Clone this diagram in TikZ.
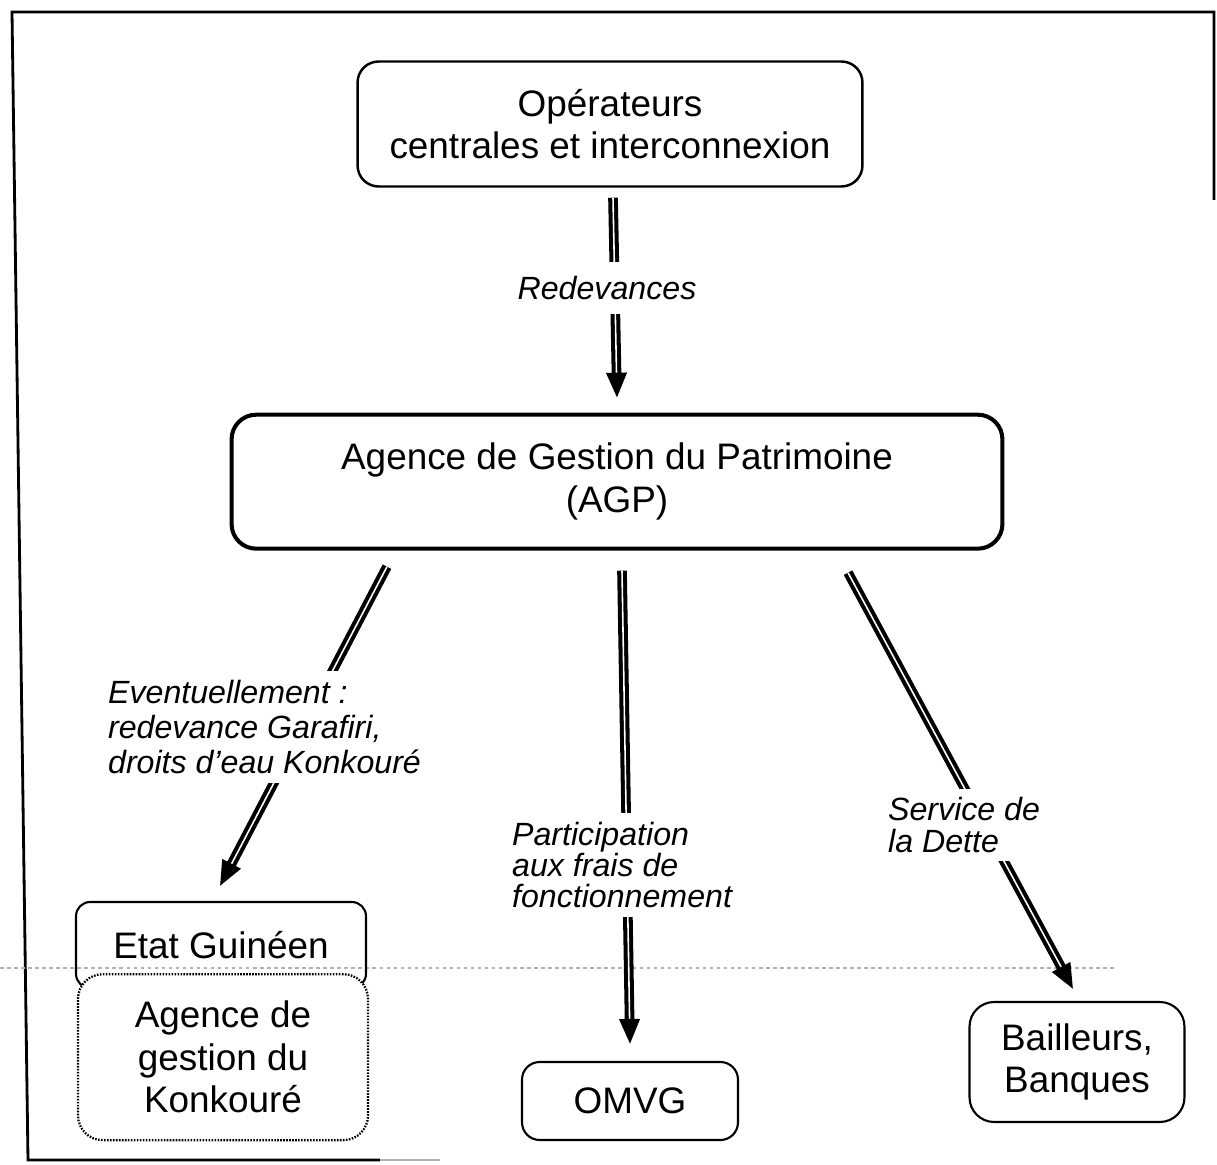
\documentclass[tikz,border=0pt]{standalone}
\usepackage{fontspec}
\setmainfont{Liberation Sans}
\usetikzlibrary{arrows.meta, positioning, calc}

\begin{document}
\begin{tikzpicture}[
    x=0.02cm, y=0.02cm,
    box/.style={draw, line width=1.2pt, align=center, inner sep=0pt, font=\fontsize{21}{24.2}\selectfont},
    dotbox/.style={box, dash pattern=on 0.9pt off 0.8pt, line width=1.3pt, fill=white},
    lbl/.style={fill=white, align=left, inner sep=5pt, font=\fontsize{18.3}{17.8}\selectfont\itshape},
    flow/.style={double=white, double distance=0.9pt, line width=2.3pt, -{Triangle[length=0.5cm, width=0.4cm]}},
    frame/.style={line width=1.6pt},
    scanline/.style={gray!60, dash pattern=on 2pt off 2pt, line width=0.6pt},
]
\useasboundingbox (0,0) rectangle (1217,-1165);

% Page frame and scan line
\draw[frame] (1214,-200) -- (1214,-12) -- (12,-12) -- (28,-1160) -- (380,-1160);
\draw[gray!60, line width=0.8pt] (380,-1160) -- (440,-1160);
\draw[scanline] (0,-968) -- (1115,-968);

% Top: operators
\node[box, rounded corners=12pt, line width=1.4pt, minimum width=10.1cm, minimum height=2.5cm] (ops) at (610,-124) {Opérateurs\\centrales et interconnexion};

% AGP
\node[box, rounded corners=14pt, line width=2.3pt, minimum width=15.42cm, minimum height=2.68cm, below=4.5cm of ops, xshift=0.14cm] (agp) {Agence de Gestion du Patrimoine\\(AGP)};

% Receivers
\node[box, rounded corners=8pt, minimum width=5.8cm, minimum height=1.72cm] (etat) at (221,-945) {Etat Guinéen};
\node[dotbox, rounded corners=14pt, minimum width=5.8cm, minimum height=3.32cm, below=-0.32cm of etat, xshift=0.04cm] (konk) {Agence de\\gestion du\\Konkouré};
\node[box, rounded corners=10pt, minimum width=4.32cm, minimum height=1.56cm] (omvg) at (630,-1101) {OMVG};
\node[box, rounded corners=14pt, minimum width=4.3cm, minimum height=2.4cm] (bail) at (1077,-1062) {Bailleurs,\\Banques};

% Flows
\draw[flow] ($(ops.south)+(3,-10)$) -- ($(agp.north)+(0,15)$);
\draw[flow] ($(agp.south)+(-230,-16)$) -- ($(etat.north)+(-1,15)$);
\draw[flow] ($(agp.south)+(5,-20)$) -- ($(omvg.north)+(0,17)$);
\draw[flow] ($(agp.south)+(231,-22)$) -- ($(bail.north)+(-4,12)$);

% Flow labels
\node[lbl, inner sep=8pt] (redev) at (607,-288) {Redevances};
\node[lbl, anchor=west, font=\fontsize{18.3}{19.9}\selectfont\itshape] (event) at (99,-727) {Eventuellement~:\\redevance Garafiri,\\droits d’eau Konkouré};
\node[lbl, anchor=west] (partic) at (503,-865) {Participation\\aux frais de\\fonctionnement};
\node[lbl, anchor=west] (dette) at (879,-825) {Service de\\la Dette};

\end{tikzpicture}
\end{document}
